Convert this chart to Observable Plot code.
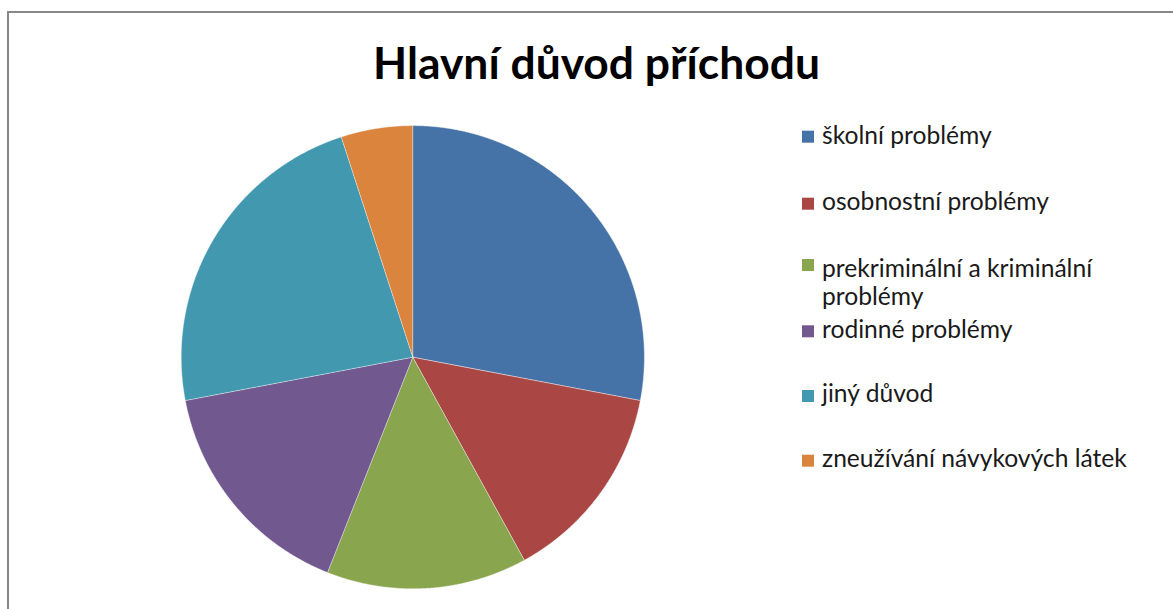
<!DOCTYPE html>
<html><head><meta charset="utf-8">
<script src="https://cdn.jsdelivr.net/npm/d3@7"></script>
<script src="https://cdn.jsdelivr.net/npm/@observablehq/plot@0.6"></script>
<style>
html,body{margin:0;padding:0;background:#fff;}
#wrap{position:relative;width:1173px;height:609px;overflow:hidden;background:#fff;}
#frameTop{position:absolute;left:7px;top:11px;width:1166px;height:2px;background:#878787;}
#frameLeft{position:absolute;left:7px;top:11px;width:2px;height:598px;background:#878787;}
#plot{position:absolute;left:0;top:0;}
#overlay{position:absolute;left:0;top:0;}
</style></head><body>
<div id="wrap">
  <div id="frameTop"></div><div id="frameLeft"></div>
  <div id="plot"></div>
  <svg id="overlay" width="1173" height="609"></svg>
</div>
<script>
// ---- data ----
const title = "Hlavní důvod příchodu";
const categories = ["školní problémy", "osobnostní problémy", "prekriminální a kriminální problémy", "rodinné problémy", "jiný důvod", "zneužívání návykových látek"];
const values = [28, 14, 14, 16, 23, 5];
// legend label lines (wrapped as in the reference)
const legendLines = [["školní problémy"], ["osobnostní problémy"], ["prekriminální a kriminální", "problémy"], ["rodinné problémy"], ["jiný důvod"], ["zneužívání návykových látek"]];
const palette = ["#4572A7", "#AA4643", "#89A54E", "#71588F", "#4198AF", "#DB843D"];

// ---- layout ----
const W = 1173, H = 609;
const cx = 412.3, cy = 356.7, R = 231.6;
const legendBaselines = [143.5, 210, 276.7, 338.3, 401.7, 466.7];
const legendSquareCenters = [136.7, 203.7, 265, 331.3, 396, 460.7];
const fontFamily = "Lato, 'Open Sans', 'Noto Sans', sans-serif";

function fitSize(text, weight, target) {
  const c = document.createElement("canvas").getContext("2d");
  c.font = `${weight} 100px ${fontFamily}`;
  return 100 * target / c.measureText(text).width;
}

// ---- pie geometry (unit circle, y down, starting at 12 o'clock clockwise) ----
const arcs = d3.pie().sort(null).value(d => d.value)(categories.map((c, i) => ({name: c, value: values[i]})));
function pt(a) { return [Math.sin(a), -Math.cos(a)]; }
const slices = arcs.map(a => {
  const n = Math.max(2, Math.ceil((a.endAngle - a.startAngle) / (Math.PI / 720)));
  const ring = [[0, 0]];
  for (let k = 0; k <= n; k++) ring.push(pt(a.startAngle + (a.endAngle - a.startAngle) * k / n));
  ring.push([0, 0]);
  return {type: "Feature", properties: {name: a.data.name}, geometry: {type: "Polygon", coordinates: [ring]}};
});
const outlineRing = d3.range(0, 361).map(d => pt(d * Math.PI / 180));
const outline = {type: "Feature", properties: {}, geometry: {type: "Polygon", coordinates: [outlineRing]}};

const chart = Plot.plot({
  width: W, height: H,
  marginLeft: cx - R, marginRight: W - (cx + R),
  marginTop: cy - R, marginBottom: H - (cy + R),
  projection: {type: "identity", domain: outline, inset: 0},
  color: {domain: categories, range: palette},
  style: {background: "transparent", overflow: "visible"},
  marks: [
    Plot.geo(slices, {fill: d => d.properties.name, stroke: "#ffffff", strokeWidth: 0.7, strokeOpacity: 0.6})
  ]
});
document.getElementById("plot").appendChild(chart);

// ---- title and legend ----
const svg = d3.select("#overlay");
const titleSize = fitSize(title, "bold", 447);
svg.append("text").attr("x", 596.5).attr("y", 79.3).attr("text-anchor", "middle")
  .style("font-family", fontFamily).style("font-weight", "bold").style("font-size", titleSize + "px")
  .attr("fill", "#000").text(title);

const legSize = fitSize("zneužívání návykových látek", "normal", 305);
categories.forEach((c, i) => {
  svg.append("rect").attr("x", 802).attr("y", legendSquareCenters[i] - 6).attr("width", 12).attr("height", 12)
    .attr("fill", palette[i]);
  const t = svg.append("text").attr("x", 822).attr("y", legendBaselines[i])
    .style("font-family", fontFamily).style("font-size", legSize + "px").attr("fill", "#1a1a1a");
  legendLines[i].forEach((line, j) => {
    t.append("tspan").attr("x", 822).attr("dy", j === 0 ? 0 : 28.3).text(line);
  });
});
</script>
</body></html>
